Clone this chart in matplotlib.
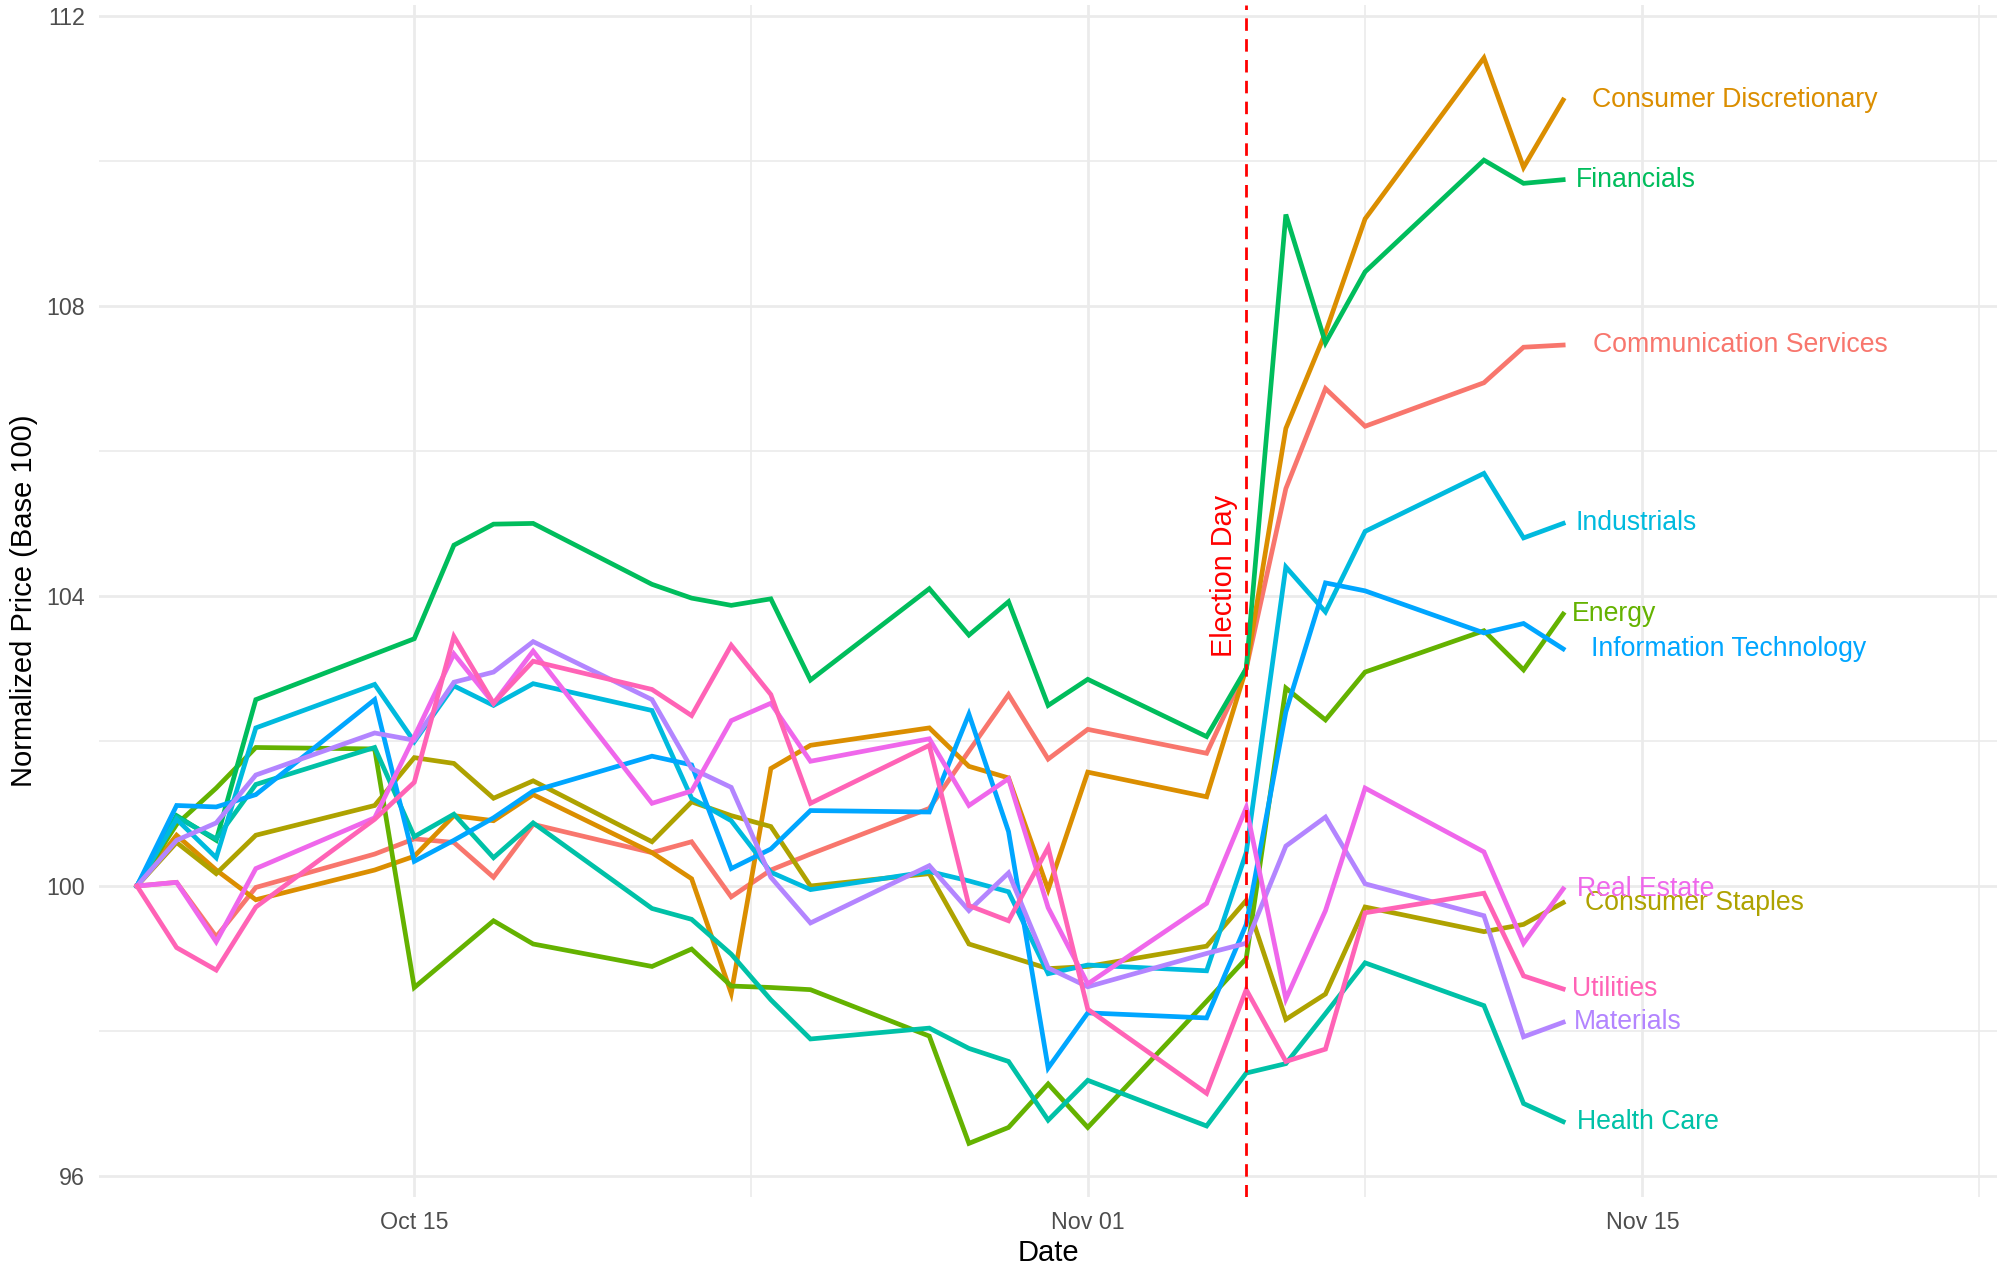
import matplotlib
matplotlib.use("Agg")
import matplotlib.pyplot as plt
import matplotlib.dates as mdates
import pandas as pd
from matplotlib.ticker import FixedLocator

plt.rcParams['font.family'] = ['Liberation Sans', 'DejaVu Sans']

# trading days, Oct 8 - Nov 13 2024
dates = pd.to_datetime([
    "2024-10-08", "2024-10-09", "2024-10-10", "2024-10-11", "2024-10-14",
    "2024-10-15", "2024-10-16", "2024-10-17", "2024-10-18", "2024-10-21",
    "2024-10-22", "2024-10-23", "2024-10-24", "2024-10-25", "2024-10-28",
    "2024-10-29", "2024-10-30", "2024-10-31", "2024-11-01", "2024-11-04",
    "2024-11-05", "2024-11-06", "2024-11-07", "2024-11-08", "2024-11-11",
    "2024-11-12", "2024-11-13"])

comm_services = [100, 100.05, 99.30, 99.98, 100.44, 100.65, 100.60, 100.12, 100.85, 100.46,
                 100.61, 99.85, 100.22, 100.44, 101.07, 101.86, 102.64, 101.75, 102.16, 101.83,
                 103.0, 105.48, 106.86, 106.34, 106.94, 107.43, 107.46]
cons_discretionary = [100, 100.70, 100.22, 99.81, 100.22, 100.41, 100.97, 100.90, 101.26, 100.46,
                      100.10, 98.52, 101.62, 101.94, 102.18, 101.65, 101.49, 99.95, 101.57, 101.23,
                      103.0, 106.31, 107.63, 109.20, 111.42, 109.91, 110.84]
cons_staples = [100, 100.60, 100.17, 100.70, 101.11, 101.77, 101.69, 101.21, 101.45, 100.61,
                101.16, 100.97, 100.82, 100.0, 100.17, 99.20, 99.03, 98.86, 98.89, 99.17,
                99.80, 98.16, 98.51, 99.71, 99.37, 99.47, 99.77]
energy = [100, 100.85, 101.35, 101.91, 101.89, 98.60, 99.06, 99.52, 99.20, 98.89,
          99.13, 98.62, 98.60, 98.57, 97.93, 96.45, 96.67, 97.27, 96.67, 98.41,
          99.0, 102.73, 102.29, 102.95, 103.52, 102.98, 103.75]
financials = [100, 100.97, 100.63, 102.57, 103.20, 103.41, 104.70, 104.99, 105.0, 104.16,
              103.97, 103.87, 103.96, 102.84, 104.10, 103.46, 103.92, 102.49, 102.85, 102.06,
              103.0, 109.26, 107.49, 108.47, 110.01, 109.69, 109.74]
health_care = [100, 100.95, 100.65, 101.40, 101.91, 100.68, 100.99, 100.39, 100.87, 99.69,
               99.54, 99.06, 98.43, 97.89, 98.04, 97.76, 97.58, 96.77, 97.32, 96.69,
               97.42, 97.55, 98.24, 98.94, 98.35, 97.0, 96.75]
industrials = [100, 100.92, 100.39, 102.18, 102.78, 101.99, 102.76, 102.49, 102.79, 102.42,
               101.21, 100.90, 100.19, 99.95, 100.20, 100.07, 99.92, 98.79, 98.91, 98.83,
               100.46, 104.40, 103.78, 104.89, 105.69, 104.80, 105.0]
info_tech = [100, 101.11, 101.09, 101.26, 102.57, 100.34, 100.63, 100.94, 101.31, 101.79,
             101.67, 100.24, 100.51, 101.04, 101.02, 102.37, 100.75, 97.49, 98.25, 98.18,
             99.47, 102.40, 104.18, 104.07, 103.49, 103.62, 103.27]
materials = [100, 100.63, 100.87, 101.53, 102.11, 102.01, 102.81, 102.95, 103.37, 102.57,
             101.62, 101.36, 100.12, 99.49, 100.28, 99.66, 100.18, 98.87, 98.61, 99.07,
             99.21, 100.55, 100.95, 100.03, 99.59, 97.92, 98.12]
real_estate = [100, 100.05, 99.23, 100.24, 100.94, 102.06, 103.20, 102.52, 103.24, 101.14,
               101.31, 102.28, 102.52, 101.72, 102.03, 101.11, 101.48, 99.70, 98.65, 99.76,
               101.08, 98.44, 99.66, 101.35, 100.47, 99.21, 99.96]
utilities = [100, 99.15, 98.84, 99.71, 100.92, 101.43, 103.44, 102.52, 103.10, 102.71,
             102.35, 103.32, 102.64, 101.14, 101.94, 99.73, 99.52, 100.53, 98.30, 97.14,
             98.57, 97.58, 97.75, 99.63, 99.90, 98.76, 98.58]

sectors = ["Communication Services", "Consumer Discretionary", "Consumer Staples", "Energy",
           "Financials", "Health Care", "Industrials", "Information Technology",
           "Materials", "Real Estate", "Utilities"]
series = [comm_services, cons_discretionary, cons_staples, energy, financials, health_care,
          industrials, info_tech, materials, real_estate, utilities]
colors = ["#F8766D", "#DB8E00", "#AEA200", "#64B200", "#00BD5C", "#00C1A7",
          "#00BADE", "#00A6FF", "#B385FF", "#EF67EB", "#FF63B6"]
# how far (in days) each end label sits right of the last point
label_nudge = [0.75, 0.73, 0.55, 0.23, 0.32, 0.36, 0.32, 0.70, 0.28, 0.36, 0.23]

election_day = pd.Timestamp("2024-11-05")

fig = plt.figure(figsize=(10.035, 6.37), dpi=200)
ax = fig.add_axes([0.0493, 0.0604, 0.9457, 0.9357])

for name, vals, col in zip(sectors, series, colors):
    ax.plot(dates, vals, color=col, lw=1.7, solid_joinstyle='miter')

last = dates[-1]
for name, vals, col, dx in zip(sectors, series, colors, label_nudge):
    ax.text(last + pd.Timedelta(days=dx), vals[-1], name, color=col,
            fontsize=9.6, ha='left', va='center')

ax.axvline(election_day, color='red', lw=1.0, ls=(0, (4.5, 3)))
ax.text(election_day - pd.Timedelta(days=0.55), 104.27, "Election Day", color='red',
        rotation=90, fontsize=10.4, ha='center', va='center')

x0 = mdates.date2num(dates[0])
ax.set_xlim(x0 - 0.96, x0 + 46.95)
ax.set_ylim(95.71, 112.15)

major_x = pd.to_datetime(["2024-10-15", "2024-11-01", "2024-11-15"])
minor_x = [mdates.date2num(pd.Timestamp("2024-10-23 12:00")),
           mdates.date2num(pd.Timestamp("2024-11-08")),
           mdates.date2num(pd.Timestamp("2024-11-23 12:00"))]
ax.xaxis.set_major_locator(FixedLocator(mdates.date2num(major_x)))
ax.xaxis.set_minor_locator(FixedLocator(minor_x))
ax.xaxis.set_major_formatter(mdates.DateFormatter("%b %d"))
ax.yaxis.set_major_locator(FixedLocator([96, 100, 104, 108, 112]))
ax.yaxis.set_minor_locator(FixedLocator([98, 102, 106, 110]))

ax.set_axisbelow(True)
ax.grid(which='major', color='#EBEBEB', lw=1.0)
ax.grid(which='minor', color='#EBEBEB', lw=0.6)
for s in ax.spines.values():
    s.set_visible(False)
ax.tick_params(which='both', length=0, labelsize=8.4, labelcolor='#4D4D4D')
ax.tick_params(axis='y', pad=5)
ax.tick_params(axis='x', pad=5)

ax.set_xlabel("Date", fontsize=10.5, labelpad=2)
ax.set_ylabel("Normalized Price (Base 100)", fontsize=10.5, labelpad=3)

fig.savefig("out.png", dpi=200)
